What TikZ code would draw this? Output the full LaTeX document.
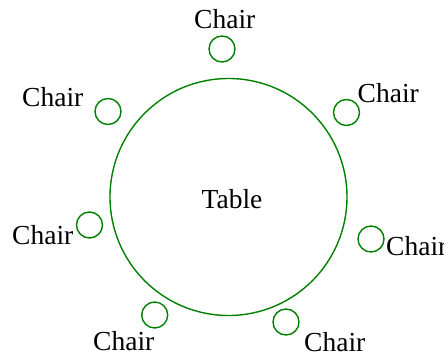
\documentclass[tikz,border=0pt]{standalone}
\usepackage{fontspec}
\setmainfont{Liberation Serif}
\definecolor{tgreen}{RGB}{0,128,0}
\begin{document}
\begin{tikzpicture}[x=1pt,y=-1pt,
  seat/.style={draw=tgreen,line width=1.4pt,circle,minimum size=26pt,inner sep=0pt},
  tbl/.style={draw=tgreen,line width=1.4pt,circle,minimum size=237pt,inner sep=0pt,font=\fontsize{27.5}{30}\selectfont},
  lbl/.style={anchor=base west,inner sep=0pt,font=\fontsize{27.5}{30}\selectfont}]
\useasboundingbox (0,0) rectangle (444,352);
\clip (0,0) rectangle (444,352);
\node[tbl] (table) at (228.5,197) {};
\node[lbl,anchor=base] (tlabel) at (232,209) {Table};
\node[seat] (c1) at (222,49) {};
\node[seat] (c2) at (346.5,112.5) {};
\node[seat] (c3) at (108,111.5) {};
\node[seat] (c4) at (371,239) {};
\node[seat] (c5) at (89.5,225) {};
\node[seat] (c6) at (154.7,315) {};
\node[seat] (c7) at (286,322) {};
\node[lbl] (l1) at (194,29) {Chair};
\node[lbl] (l2) at (357.5,103) {Chair};
\node[lbl] (l3) at (22,106.5) {Chair};
\node[lbl] (l4) at (386,256) {Chair};
\node[lbl] (l5) at (12,245) {Chair};
\node[lbl] (l6) at (93,350) {Chair};
\node[lbl] (l7) at (304,351) {Chair};
\end{tikzpicture}
\end{document}
